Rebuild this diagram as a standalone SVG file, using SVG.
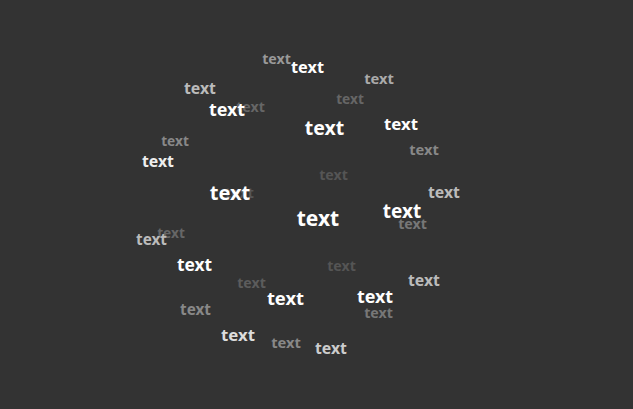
<svg xmlns="http://www.w3.org/2000/svg" width="633" height="409" viewBox="0 0 633 409">
<style>
text{font-family:"Noto Sans","Open Sans","DejaVu Sans",sans-serif;font-weight:bold;text-anchor:middle}
</style>
<rect width="633" height="409" fill="#333"/>
<g id="cloud" transform="translate(0,1)">
<text x="239.5" y="197" font-size="14.2" fill="#555">text</text>
<text x="333.5" y="179" font-size="14.2" fill="#555">text</text>
<text x="341.5" y="270" font-size="14.2" fill="#555">text</text>
<text x="251.5" y="287" font-size="14.2" fill="#5c5c5c">text</text>
<text x="250.5" y="111" font-size="14.2" fill="#666">text</text>
<text x="350" y="103" font-size="13.7" fill="#666">text</text>
<text x="171" y="237" font-size="13.7" fill="#666">text</text>
<text x="412.5" y="228" font-size="14.2" fill="#777">text</text>
<text x="378.5" y="317" font-size="14.2" fill="#777">text</text>
<text x="175" y="145" font-size="13.7" fill="#888">text</text>
<text x="424" y="154" font-size="14.7" fill="#888">text</text>
<text x="195.5" y="314" font-size="15.3" fill="#888">text</text>
<text x="286" y="347" font-size="14.7" fill="#888">text</text>
<text x="276.5" y="63" font-size="14.2" fill="#999">text</text>
<text x="379" y="83" font-size="14.7" fill="#aaa">text</text>
<text x="200" y="93" font-size="15.8" fill="#bbb">text</text>
<text x="444" y="197" font-size="15.8" fill="#bbb">text</text>
<text x="424" y="285" font-size="15.8" fill="#bbb">text</text>
<text x="151.5" y="244" font-size="15.3" fill="#bbb">text</text>
<text x="331" y="353" font-size="15.8" fill="#ccc">text</text>
<text x="238" y="340" font-size="16.8" fill="#ddd">text</text>
<text x="158" y="166" font-size="15.8" fill="#eee">text</text>
<text x="307.5" y="72" font-size="16.3" fill="#fff">text</text>
<text x="227" y="115" font-size="17.9" fill="#fff">text</text>
<text x="324.5" y="134" font-size="19.5" fill="#fff">text</text>
<text x="401" y="129" font-size="16.8" fill="#fff">text</text>
<text x="318" y="225" font-size="21" fill="#fff">text</text>
<text x="402" y="217" font-size="19" fill="#fff">text</text>
<text x="375" y="302" font-size="17.9" fill="#fff">text</text>
<text x="230" y="199" font-size="20" fill="#fff">text</text>
<text x="194.5" y="270" font-size="17.4" fill="#fff">text</text>
<text x="285.5" y="304" font-size="18.4" fill="#fff">text</text>
</g>
</svg>
